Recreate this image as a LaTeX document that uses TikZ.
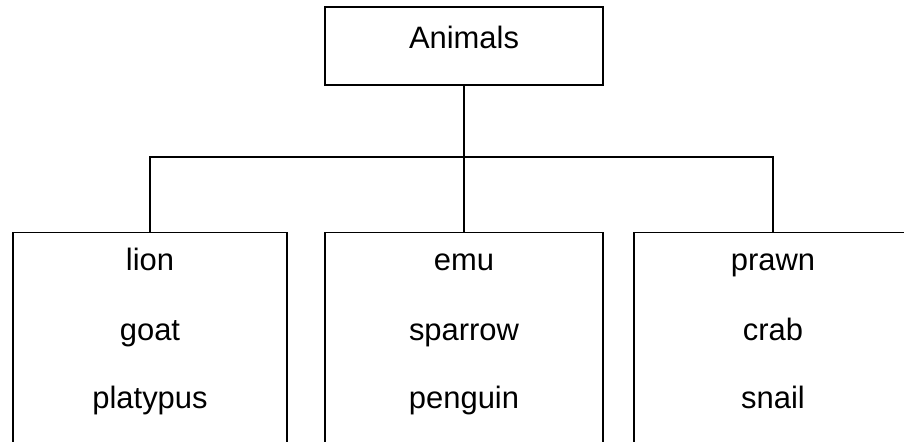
\documentclass[tikz,border=0pt]{standalone}
\usepackage{fontspec}
\setmainfont{Liberation Sans}
\begin{document}
\begin{tikzpicture}[
  box/.style={draw, line width=1pt, minimum height=5.6cm, anchor=north, inner sep=0pt},
  word/.style={anchor=base, inner sep=0pt},
  font=\fontsize{22}{26}\selectfont]
\useasboundingbox (0,0) rectangle (22.6,11.025);
\clip (0,0) rectangle (22.6,11.025);

\node[draw, line width=1pt, minimum width=6.95cm, minimum height=1.95cm, text depth=0.45cm] (Animals) at (11.6,9.875) {Animals};

\node[box, minimum width=6.85cm] (Group 1) at (3.75,5.225) {};
\node[word] (lion) at (3.75,4.25) {lion};
\node[word] (goat) at (3.75,2.5) {goat};
\node[word] (platypus) at (3.75,0.8) {platypus};

\node[box, minimum width=6.95cm] (Group 2) at (11.6,5.225) {};
\node[word] (emu) at (11.6,4.25) {emu};
\node[word] (sparrow) at (11.6,2.5) {sparrow};
\node[word] (penguin) at (11.6,0.8) {penguin};

\node[box, minimum width=6.95cm] (Group 3) at (19.325,5.225) {};
\node[word] (prawn) at (19.325,4.25) {prawn};
\node[word] (crab) at (19.325,2.5) {crab};
\node[word] (snail) at (19.325,0.8) {snail};

\coordinate (Bar) at (11.6,7.1);
\draw[line width=1pt] (Animals.south) -- (Group 2.north);
\draw[line width=1pt] (Group 1.north) |- (Bar) -| (Group 3.north);

\end{tikzpicture}
\end{document}
